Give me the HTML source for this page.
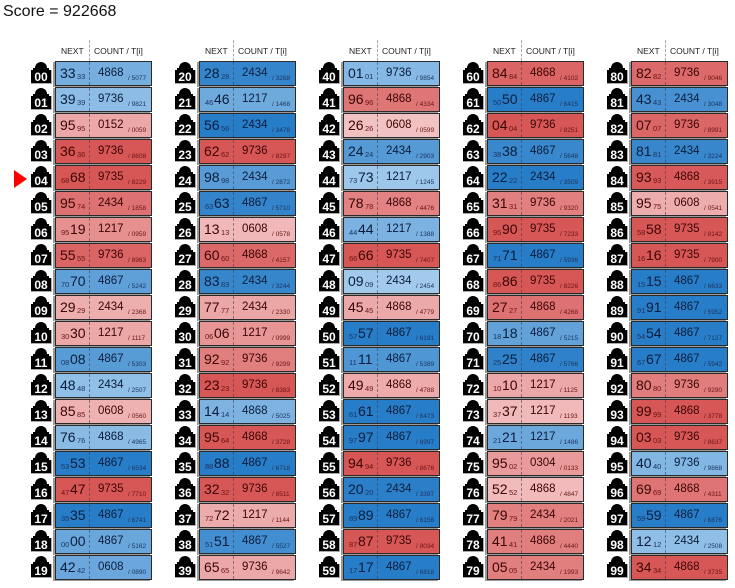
<!DOCTYPE html>
<html><head><meta charset="utf-8">
<style>
body{margin:0;width:735px;height:588px;background:#fff;font-family:"Liberation Sans","DejaVu Sans",sans-serif;overflow:hidden;position:relative}
.abs{position:absolute}
.cell{position:absolute;width:95px;height:23px;border:1px solid #2a2a2a;box-shadow:-2px 1px 0 #9a9a9a}
.dash{position:absolute;top:0;bottom:0;left:33px;border-left:1px dashed rgba(60,60,80,0.55)}
.big{position:absolute;top:3px;font-size:14px;line-height:16px}
.sm{position:absolute;top:10px;font-size:7.5px;line-height:9px}
.cnt{position:absolute;left:42px;top:4px;font-size:11.5px;line-height:14px}
.t{position:absolute;left:72px;top:12px;font-size:6.5px;line-height:9px;white-space:nowrap}
.hdr{position:absolute;top:46px;font-size:8.5px;color:#222}
.hdash{position:absolute;top:40px;height:21px;border-left:1px dashed #aaa}
</style></head>
<body>
<div class="abs" style="left:3px;top:3px;font-size:16px;color:#111">Score = 922668</div>
<svg class="abs" style="left:14px;top:170px" width="14" height="18"><polygon points="0,0 13,9 0,18" fill="#f00"/></svg>
<div id="grid"></div>
<script>
const ids=[];for(let i=0;i<100;i++)ids.push(String(i).padStart(2,'0'));
const nextVals=["33","39","95","36","68","95","19","55","70","29","30","08","48","85","76","53","47","35","00","42",
"28","46","56","62","98","63","13","60","83","77","06","92","23","14","95","88","32","72","51","65",
"01","96","26","24","73","78","44","66","09","45","57","11","49","61","97","94","20","89","87","17",
"84","50","04","38","22","31","90","71","86","27","18","25","10","37","21","95","52","79","41","05",
"82","43","07","81","93","95","58","16","15","91","54","67","80","99","03","40","69","59","12","34"];
const subVals=["33","39","95","36","68","74","95","55","70","29","30","08","48","85","76","53","47","35","00","42",
"28","46","56","62","98","63","13","60","83","77","06","92","23","14","64","88","32","72","51","65",
"01","96","26","24","73","78","44","66","09","45","57","11","49","61","97","94","20","89","87","17",
"84","50","04","38","22","31","95","71","86","27","18","25","10","37","21","02","52","79","41","05",
"82","43","07","81","93","75","58","16","15","91","54","67","80","99","03","40","69","59","12","34"];
const subLeft=[0,0,0,0,1,0,1,0,1,0,1,1,0,0,0,1,1,1,1,0,
0,1,0,0,0,1,0,0,0,0,1,0,0,0,0,1,0,1,1,0,
0,0,0,0,1,0,1,1,0,0,1,1,0,1,1,0,0,1,1,1,
0,1,0,1,0,0,1,1,1,0,1,1,1,1,1,0,0,0,0,0,
0,0,0,0,0,0,1,1,1,1,1,1,0,0,0,0,0,1,0,0];
const counts=["4868","9736","0152","9736","9735","2434","1217","9736","4867","2434","1217","4867","2434","0608","4868","4867","9735","4867","4867","0608",
"2434","1217","2434","9736","2434","4867","0608","4868","2434","2434","1217","9736","9736","4868","4868","4867","9736","1217","4867","9736",
"9736","4868","0608","2434","1217","4868","1217","9735","2434","4868","4867","4867","4868","4867","4867","9736","2434","4867","9735","4867",
"4868","4867","9736","4867","2434","9736","9735","4867","9735","4868","4867","4867","1217","1217","1217","0304","4868","2434","4868","2434",
"9736","2434","9736","2434","4868","0608","9735","9735","4867","4867","4867","4867","9736","4868","9736","9736","4868","4867","2434","4868"];
const tVals=["5077","9821","0059","8608","8229","1858","0959","8963","5242","2368","1117","5303","2507","0560","4965","6534","7710","6741","5162","0890",
"3268","1468","3478","8297","2872","5710","0578","4157","3244","2330","0999","9299","8383","5025","3728","6718","8511","1144","5527","9642",
"9854","4334","0599","2903","1245","4476","1388","7407","2454","4779","6191","5389","4788","6473","6997","8676","3397","6156","8034","6818",
"4102","6415","8251","5648","3509","9320","7233","5936","8226","4268","5215","5766","1125","1193","1486","0133","4847","2021","4440","1993",
"9046","3048","8991","3224","3915","0541","8142","7900","6633","5952","7127","5942","9290","3778","8637","9868","4311","6876","2508","3735"];

function mix(a,b,t){return 'rgb('+a.map((v,i)=>Math.round(v+(b[i]-v)*t)).join(',')+')';}
function colX(c){return 55+144*c;}
function rowY(r){return 61+26*r;}
const grid=document.getElementById('grid');
for(let c=0;c<5;c++){
  const x=colX(c);
  const h1=document.createElement('div');h1.className='hdr';h1.style.left=(x+6)+'px';h1.textContent='NEXT';
  
  
  grid.appendChild(h1);
  const h2=document.createElement('div');h2.className='hdr';h2.style.left=(x+39)+'px';h2.textContent='COUNT / T[i]';
  
  
  grid.appendChild(h2);
  const hd=document.createElement('div');hd.className='hdash';hd.style.left=(x+34)+'px';
  
  
  grid.appendChild(hd);
}
for(let i=0;i<100;i++){
  const c=Math.floor(i/20),r=i%20,x=colX(c),y=rowY(r);
  const cnt=parseInt(counts[i],10),tv=parseInt(tVals[i],10),d=cnt-tv;
  const t=Math.min(1,Math.sqrt(Math.abs(d)/1000));
  const red=d>0;
  const bg=red?mix([245,204,204],[215,86,86],t):mix([182,215,242],[40,125,200],t);
  const fg=red?'#3a0505':'#0b1d3a';
  const sfg=red?'#6a1515':'#1d3560';
  const ic=document.createElementNS('http://www.w3.org/2000/svg','svg');
  ic.setAttribute('width','24');ic.setAttribute('height','24');
  ic.setAttribute('style','position:absolute;left:'+(x-26)+'px;top:'+(y)+'px');
  
  
  ic.innerHTML='<rect x="2" y="9" width="21" height="14" fill="#aaa"/><path d="M6,7 A6,6 0 0 1 18,7 L18,8 L6,8 Z" fill="#000"/><rect x="4" y="7" width="16" height="3" fill="#000"/><rect x="2" y="9" width="20" height="13" fill="#000"/><text x="12" y="20" text-anchor="middle" font-size="12" font-weight="bold" fill="#fff" font-family="Liberation Sans,sans-serif">'+ids[i]+'</text>';
  grid.appendChild(ic);
  const cell=document.createElement('div');
  cell.className='cell';
  cell.style.left=x+'px';cell.style.top=y+'px';cell.style.background=bg;cell.style.color=fg;
  
  
  let html='<div class="dash"></div>';
  if(subLeft[i]){
    html+='<span class="sm" style="left:5px;color:'+sfg+'">'+subVals[i]+'</span><span class="big" style="left:14px">'+nextVals[i]+'</span>';
  }else{
    html+='<span class="big" style="left:4px">'+nextVals[i]+'</span><span class="sm" style="left:21px;color:'+sfg+'">'+subVals[i]+'</span>';
  }
  html+='<span class="cnt">'+counts[i]+'</span><span class="t" style="color:'+sfg+'">/ '+tVals[i]+'</span>';
  cell.innerHTML=html;
  grid.appendChild(cell);
}
</script>
</body></html>
